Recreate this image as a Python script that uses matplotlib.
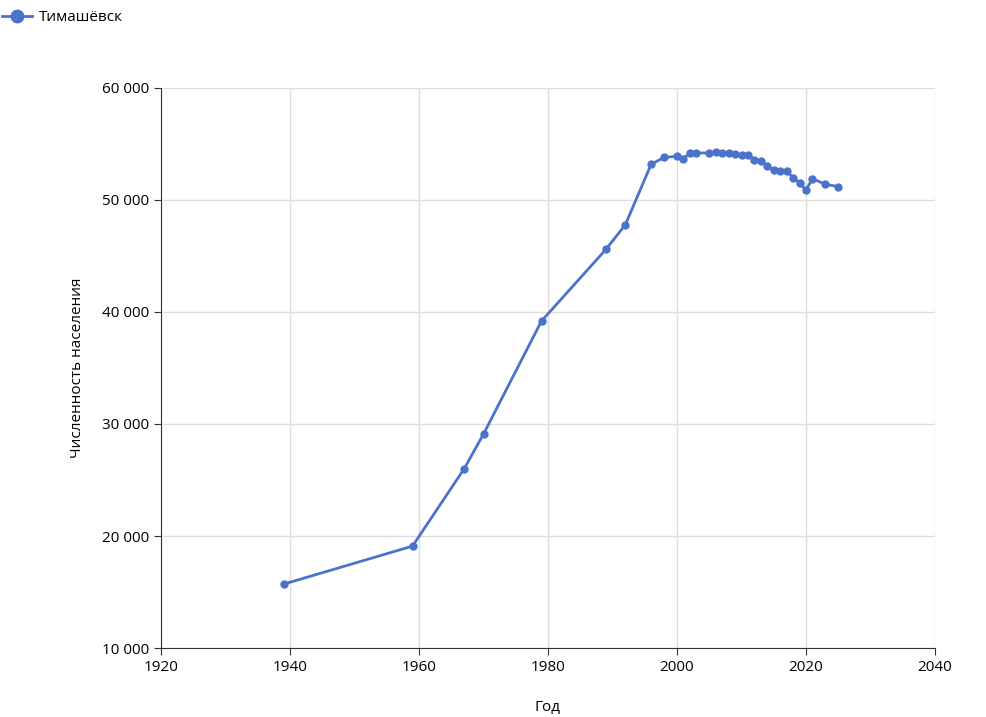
import matplotlib.pyplot as plt
from matplotlib.ticker import FuncFormatter

years = [1939, 1959, 1967, 1970, 1979, 1989, 1992, 1996, 1998, 2000, 2001, 2002, 2003,
         2005, 2006, 2007, 2008, 2009, 2010, 2011, 2012, 2013, 2014, 2015, 2016, 2017,
         2018, 2019, 2020, 2021, 2023, 2025]
population = [15700, 19100, 26000, 29100, 39200, 45600, 47800, 53200, 53800, 53900, 53700,
              54200, 54200, 54200, 54300, 54200, 54200, 54100, 54000, 54000, 53600, 53500,
              53000, 52700, 52600, 52600, 52000, 51500, 50900, 51900, 51400, 51200]

color = "#4a73c9"
plt.rcParams["font.family"] = ["Open Sans", "DejaVu Sans"]

fig = plt.figure(figsize=(9.87, 7.17), dpi=100)
ax = fig.add_axes([161 / 987, 1 - 648 / 717, (935 - 161) / 987, (648 - 88) / 717])

ax.plot(years, population, color=color, linewidth=2, marker="o", markersize=5, label="Тимашёвск")

ax.set_xlim(1920, 2040)
ax.set_ylim(10000, 60000)
ax.set_xticks(range(1920, 2041, 20))
ax.set_yticks(range(10000, 60001, 10000))
ax.yaxis.set_major_formatter(FuncFormatter(lambda v, p: f"{int(v):,}".replace(",", " ")))
ax.grid(True, color="#dddddd", linewidth=1)
ax.set_axisbelow(True)
for s in ["top", "right"]:
    ax.spines[s].set_visible(False)
for s in ["left", "bottom"]:
    ax.spines[s].set_color("#333333")
ax.tick_params(labelsize=11, color="#333333", length=5)

fig.text(548 / 987, 1 - 708 / 717, "Год", fontsize=11, ha="center", va="center")
ax.set_ylabel("Численность населения", fontsize=11, labelpad=12)

fig.legend(loc="upper left", bbox_to_anchor=(-0.012, 1.005), frameon=False, fontsize=11,
           handlelength=2, markerscale=1.8, handletextpad=0.4)

fig.savefig("out.png", dpi=100)
